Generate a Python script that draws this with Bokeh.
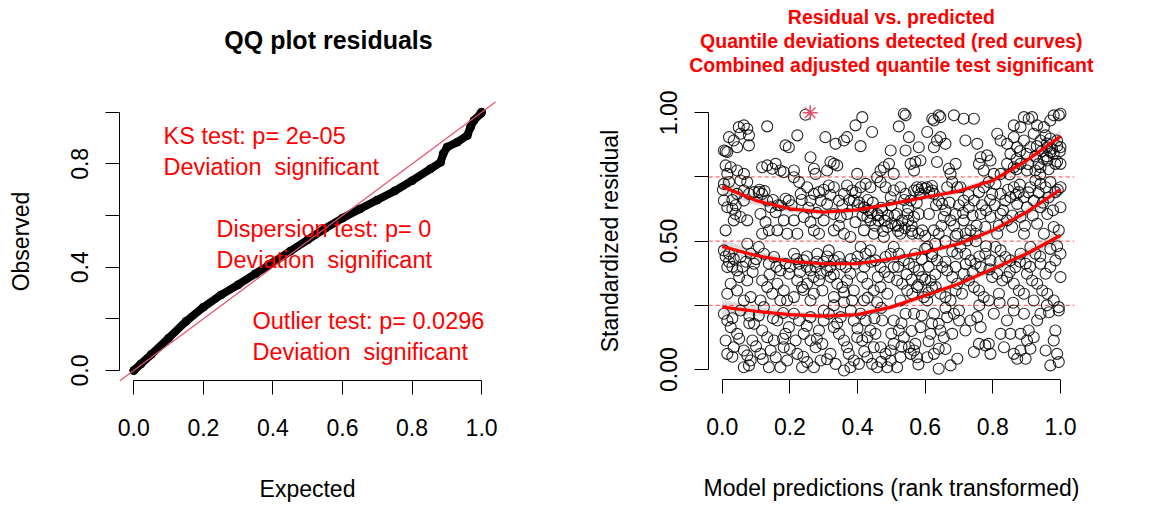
from bokeh.plotting import figure
from bokeh.models import FixedTicker, Range1d, Label, PrintfTickFormatter
from bokeh.layouts import row
from bokeh.embed import file_html
from bokeh.resources import INLINE

FONT = "Liberation Sans"

# ---------------- data: QQ plot ----------------
qq_expected = [0.0, 0.02, 0.05, 0.10, 0.15, 0.20, 0.25, 0.30, 0.35, 0.40, 0.45, 0.50, 0.55,
               0.60, 0.65, 0.70, 0.75, 0.80, 0.853, 0.882, 0.89, 0.901, 0.93, 0.959, 0.968,
               0.978, 0.997, 1.0]
qq_observed = [0.0, 0.025, 0.062, 0.125, 0.19, 0.245, 0.292, 0.332, 0.375, 0.418, 0.462, 0.506,
               0.55, 0.59, 0.625, 0.66, 0.695, 0.735, 0.781, 0.806, 0.84, 0.865, 0.884, 0.910,
               0.942, 0.968, 0.994, 1.0]
qq_title = "QQ plot residuals"
test_texts = ["KS test: p= 2e-05", "Deviation  significant",
              "Dispersion test: p= 0", "Deviation  significant",
              "Outlier test: p= 0.0296", "Deviation  significant"]

# ---------------- data: residual vs predicted ----------------
top_band = [
    (0.005, 0.853), (0.010, 0.850), (0.015, 0.847), (0.020, 0.905), (0.049, 0.944), (0.064, 0.951),
    (0.074, 0.938), (0.079, 0.912), (0.054, 0.918), (0.034, 0.892), (0.079, 0.873), (0.044, 0.866),
    (0.010, 0.795), (0.025, 0.788), (0.044, 0.775), (0.064, 0.762), (0.074, 0.730), (0.054, 0.736),
    (0.015, 0.762), (0.133, 0.947), (0.118, 0.788), (0.148, 0.782), (0.172, 0.775), (0.182, 0.769),
    (0.187, 0.873), (0.197, 0.866), (0.158, 0.801), (0.222, 0.912), (0.212, 0.775), (0.133, 0.795),
    (0.246, 0.992), (0.261, 0.827), (0.271, 0.782), (0.305, 0.905), (0.310, 0.775), (0.320, 0.808),
    (0.330, 0.801), (0.340, 0.795), (0.276, 0.762), (0.335, 0.879), (0.360, 0.892), (0.369, 0.905),
    (0.394, 0.951), (0.414, 0.983), (0.409, 0.870), (0.399, 0.762), (0.443, 0.925), (0.498, 0.853),
    (0.478, 0.788), (0.493, 0.801), (0.507, 0.762), (0.468, 0.775), (0.522, 0.947), (0.537, 0.996),
    (0.542, 0.990), (0.552, 0.905), (0.542, 0.853), (0.557, 0.801), (0.571, 0.808), (0.586, 0.814),
    (0.581, 0.866), (0.567, 0.775), (0.606, 0.925), (0.621, 0.977), (0.626, 0.970), (0.640, 0.990),
    (0.645, 0.983), (0.635, 0.892), (0.645, 0.905), (0.660, 0.879), (0.685, 0.990), (0.626, 0.866),
    (0.635, 0.808), (0.670, 0.782), (0.675, 0.762), (0.690, 0.801), (0.714, 0.977), (0.719, 0.892),
    (0.744, 0.977), (0.754, 0.879), (0.764, 0.827), (0.759, 0.801), (0.783, 0.834), (0.793, 0.814),
    (0.813, 0.918), (0.803, 0.762), (0.773, 0.775), (0.823, 0.892), (0.842, 0.879), (0.862, 0.951),
    (0.862, 0.905), (0.882, 0.944), (0.892, 0.983), (0.906, 0.977), (0.916, 0.983), (0.852, 0.840),
    (0.872, 0.866), (0.892, 0.892), (0.842, 0.801), (0.862, 0.788), (0.882, 0.801), (0.901, 0.775),
    (0.823, 0.762), (0.921, 0.918), (0.941, 0.892), (0.956, 0.912), (0.970, 0.970), (0.980, 0.990),
    (0.995, 0.990), (1.000, 0.996), (0.990, 0.892), (1.000, 0.866), (0.980, 0.840), (0.970, 0.847),
    (0.961, 0.814), (0.941, 0.788), (0.926, 0.775), (1.000, 0.801), (0.911, 0.866), (0.985, 0.801),
    (0.961, 0.866), (0.951, 0.944), (0.931, 0.951),
]
upper_band = [
    (0.005, 0.658), (0.015, 0.632), (0.030, 0.626), (0.039, 0.606), (0.034, 0.581), (0.010, 0.542),
    (0.044, 0.684), (0.064, 0.697), (0.079, 0.684), (0.094, 0.691), (0.054, 0.594), (0.074, 0.581),
    (0.005, 0.723), (0.020, 0.730), (0.064, 0.658), (0.108, 0.691), (0.118, 0.684), (0.133, 0.658),
    (0.143, 0.632), (0.158, 0.613), (0.172, 0.639), (0.187, 0.665), (0.197, 0.658), (0.113, 0.606),
    (0.128, 0.574), (0.138, 0.542), (0.163, 0.542), (0.182, 0.581), (0.192, 0.529), (0.118, 0.529),
    (0.212, 0.749), (0.227, 0.730), (0.232, 0.684), (0.251, 0.710), (0.261, 0.658), (0.271, 0.684),
    (0.286, 0.691), (0.291, 0.658), (0.241, 0.594), (0.261, 0.574), (0.271, 0.542), (0.286, 0.529),
    (0.222, 0.529), (0.212, 0.581), (0.300, 0.581), (0.315, 0.717), (0.330, 0.710), (0.345, 0.658),
    (0.360, 0.684), (0.369, 0.717), (0.384, 0.697), (0.389, 0.658), (0.330, 0.606), (0.350, 0.594),
    (0.369, 0.606), (0.394, 0.574), (0.330, 0.542), (0.360, 0.529), (0.379, 0.516), (0.310, 0.645),
    (0.409, 0.710), (0.424, 0.723), (0.438, 0.710), (0.458, 0.749), (0.468, 0.730), (0.483, 0.710),
    (0.419, 0.632), (0.429, 0.594), (0.438, 0.581), (0.458, 0.606), (0.473, 0.619), (0.488, 0.555),
    (0.419, 0.542), (0.448, 0.529), (0.478, 0.516), (0.498, 0.671), (0.507, 0.697), (0.527, 0.710),
    (0.542, 0.684), (0.557, 0.658), (0.567, 0.697), (0.576, 0.710), (0.586, 0.684), (0.517, 0.606),
    (0.532, 0.581), (0.547, 0.606), (0.567, 0.594), (0.581, 0.606), (0.591, 0.542), (0.527, 0.529),
    (0.562, 0.529), (0.606, 0.710), (0.621, 0.697), (0.626, 0.684), (0.640, 0.658), (0.650, 0.645),
    (0.665, 0.710), (0.680, 0.730), (0.695, 0.710), (0.611, 0.606), (0.626, 0.542), (0.640, 0.529),
    (0.655, 0.594), (0.675, 0.581), (0.690, 0.606), (0.695, 0.529), (0.704, 0.710), (0.714, 0.658),
    (0.729, 0.632), (0.744, 0.658), (0.759, 0.691), (0.773, 0.710), (0.788, 0.730), (0.798, 0.684),
    (0.714, 0.581), (0.734, 0.542), (0.749, 0.529), (0.764, 0.606), (0.778, 0.555), (0.793, 0.594),
    (0.724, 0.503), (0.808, 0.723), (0.823, 0.684), (0.837, 0.658), (0.852, 0.671), (0.862, 0.710),
    (0.877, 0.691), (0.892, 0.671), (0.901, 0.632), (0.823, 0.606), (0.842, 0.581), (0.857, 0.555),
    (0.882, 0.594), (0.892, 0.529), (0.813, 0.529), (0.872, 0.645), (0.911, 0.710), (0.926, 0.736),
    (0.941, 0.723), (0.956, 0.710), (0.970, 0.730), (0.985, 0.691), (1.000, 0.710), (0.921, 0.658),
    (0.941, 0.632), (0.961, 0.606), (0.980, 0.555), (0.995, 0.542), (0.931, 0.568), (0.951, 0.529),
    (1.000, 0.632),
]
lower_band = [
    (0.005, 0.464), (0.020, 0.451), (0.034, 0.431), (0.015, 0.399), (0.044, 0.386), (0.054, 0.438),
    (0.074, 0.490), (0.084, 0.451), (0.094, 0.412), (0.025, 0.334), (0.044, 0.308), (0.074, 0.347),
    (0.084, 0.282), (0.015, 0.295), (0.064, 0.269), (0.108, 0.477), (0.123, 0.451), (0.138, 0.412),
    (0.153, 0.438), (0.172, 0.386), (0.187, 0.412), (0.197, 0.373), (0.118, 0.347), (0.133, 0.321),
    (0.148, 0.295), (0.163, 0.334), (0.182, 0.308), (0.192, 0.269), (0.113, 0.269), (0.172, 0.269),
    (0.212, 0.451), (0.227, 0.412), (0.241, 0.425), (0.261, 0.386), (0.276, 0.399), (0.291, 0.373),
    (0.222, 0.347), (0.236, 0.321), (0.251, 0.334), (0.271, 0.295), (0.286, 0.347), (0.296, 0.308),
    (0.261, 0.269), (0.212, 0.282), (0.281, 0.451), (0.315, 0.464), (0.330, 0.425), (0.345, 0.438),
    (0.365, 0.399), (0.379, 0.373), (0.394, 0.412), (0.320, 0.360), (0.340, 0.334), (0.355, 0.321),
    (0.369, 0.347), (0.389, 0.308), (0.330, 0.282), (0.360, 0.262), (0.384, 0.269), (0.310, 0.386),
    (0.409, 0.477), (0.424, 0.451), (0.438, 0.464), (0.453, 0.425), (0.468, 0.399), (0.483, 0.438),
    (0.498, 0.451), (0.414, 0.360), (0.429, 0.334), (0.448, 0.308), (0.468, 0.321), (0.488, 0.295),
    (0.419, 0.269), (0.458, 0.262), (0.493, 0.360), (0.507, 0.477), (0.522, 0.451), (0.537, 0.425),
    (0.552, 0.412), (0.567, 0.399), (0.581, 0.386), (0.591, 0.360), (0.517, 0.347), (0.532, 0.334),
    (0.547, 0.308), (0.562, 0.295), (0.576, 0.321), (0.596, 0.282), (0.527, 0.269), (0.507, 0.399),
    (0.606, 0.477), (0.621, 0.451), (0.635, 0.425), (0.650, 0.399), (0.665, 0.386), (0.680, 0.360),
    (0.695, 0.334), (0.616, 0.347), (0.631, 0.321), (0.645, 0.295), (0.660, 0.282), (0.675, 0.269),
    (0.690, 0.308), (0.606, 0.269), (0.695, 0.451), (0.704, 0.477), (0.719, 0.451), (0.734, 0.425),
    (0.749, 0.412), (0.764, 0.399), (0.778, 0.451), (0.793, 0.425), (0.714, 0.373), (0.729, 0.347),
    (0.744, 0.321), (0.759, 0.308), (0.773, 0.282), (0.788, 0.269), (0.709, 0.295), (0.798, 0.360),
    (0.808, 0.477), (0.823, 0.464), (0.837, 0.438), (0.852, 0.425), (0.867, 0.399), (0.882, 0.451),
    (0.897, 0.412), (0.813, 0.373), (0.828, 0.347), (0.842, 0.360), (0.862, 0.334), (0.877, 0.308),
    (0.892, 0.295), (0.818, 0.295), (0.901, 0.373), (0.911, 0.477), (0.926, 0.451), (0.941, 0.412),
    (0.956, 0.373), (0.970, 0.399), (0.985, 0.425), (1.000, 0.360), (0.916, 0.347), (0.931, 0.334),
    (0.946, 0.308), (0.961, 0.295), (0.980, 0.269), (0.995, 0.243), (0.921, 0.269), (1.000, 0.451),
]
bottom_band = [
    (0.005, 0.217), (0.015, 0.191), (0.025, 0.165), (0.010, 0.113), (0.015, 0.061), (0.044, 0.139),
    (0.064, 0.074), (0.074, 0.055), (0.084, 0.035), (0.064, 0.009), (0.079, 0.016), (0.094, 0.178),
    (0.054, 0.230), (0.034, 0.087), (0.089, 0.113), (0.108, 0.210), (0.118, 0.152), (0.133, 0.126),
    (0.143, 0.074), (0.158, 0.048), (0.172, 0.009), (0.187, 0.139), (0.197, 0.165), (0.113, 0.061),
    (0.138, 0.009), (0.182, 0.087), (0.163, 0.191), (0.123, 0.243), (0.192, 0.035), (0.153, 0.113),
    (0.212, 0.217), (0.227, 0.191), (0.241, 0.139), (0.261, 0.113), (0.276, 0.087), (0.291, 0.035),
    (0.222, 0.061), (0.236, 0.009), (0.251, 0.029), (0.271, 0.009), (0.286, 0.152), (0.300, 0.191),
    (0.217, 0.113), (0.261, 0.204), (0.296, 0.100), (0.315, 0.217), (0.330, 0.165), (0.345, 0.139),
    (0.360, 0.113), (0.374, 0.061), (0.389, 0.035), (0.399, 0.126), (0.320, 0.061), (0.335, 0.022),
    (0.360, -0.004), (0.379, 0.009), (0.404, 0.022), (0.350, 0.204), (0.389, 0.191), (0.369, 0.087),
    (0.409, 0.217), (0.424, 0.191), (0.438, 0.152), (0.453, 0.139), (0.468, 0.087), (0.483, 0.061),
    (0.498, 0.035), (0.414, 0.113), (0.429, 0.048), (0.443, 0.022), (0.458, 0.009), (0.488, 0.009),
    (0.448, 0.087), (0.473, 0.191), (0.429, 0.126), (0.507, 0.191), (0.522, 0.152), (0.537, 0.126),
    (0.552, 0.087), (0.567, 0.074), (0.507, 0.100), (0.527, 0.048), (0.517, 0.009), (0.557, 0.061),
    (0.576, 0.048), (0.586, 0.165), (0.567, 0.217), (0.542, 0.217), (0.498, 0.074), (0.571, 0.100),
    (0.606, 0.048), (0.626, 0.217), (0.640, 0.178), (0.645, 0.152), (0.640, 0.081), (0.640, 0.003),
    (0.655, 0.126), (0.675, 0.016), (0.695, 0.042), (0.680, 0.139), (0.665, 0.204), (0.616, 0.139),
    (0.685, 0.217), (0.700, 0.191), (0.626, 0.061), (0.744, 0.068), (0.759, 0.100), (0.778, 0.094),
    (0.788, 0.100), (0.823, 0.139), (0.734, 0.191), (0.754, 0.204), (0.719, 0.152), (0.764, 0.165),
    (0.803, 0.217), (0.793, 0.061), (0.862, 0.061), (0.872, 0.042), (0.882, 0.074), (0.897, 0.042),
    (0.911, 0.081), (0.852, 0.139), (0.882, 0.139), (0.901, 0.113), (0.892, 0.217), (0.862, 0.230),
    (0.842, 0.191), (0.906, 0.152), (0.833, 0.087), (0.970, 0.016), (0.995, 0.029), (0.980, 0.113),
    (0.985, 0.152), (0.941, 0.217), (0.966, 0.223), (0.995, 0.230), (0.956, 0.074), (0.931, 0.191),
    (0.921, 0.126), (0.990, 0.061),
]
cluster_points = [
    (0.002, 0.700), (0.030, 0.660), (0.040, 0.640), (0.110, 0.700), (0.125, 0.695), (0.150, 0.660),
    (0.165, 0.640), (0.205, 0.640), (0.235, 0.660), (0.255, 0.630), (0.280, 0.610), (0.300, 0.700),
    (0.320, 0.680), (0.345, 0.560), (0.355, 0.640), (0.375, 0.660), (0.395, 0.690), (0.405, 0.650),
    (0.415, 0.600), (0.432, 0.620), (0.445, 0.650), (0.452, 0.560), (0.462, 0.580), (0.475, 0.540),
    (0.490, 0.600), (0.500, 0.640), (0.512, 0.560), (0.520, 0.540), (0.538, 0.660), (0.550, 0.630),
    (0.560, 0.560), (0.575, 0.650), (0.580, 0.700), (0.590, 0.710), (0.600, 0.705), (0.612, 0.690),
    (0.620, 0.715), (0.632, 0.640), (0.648, 0.560), (0.660, 0.620), (0.672, 0.650), (0.685, 0.560),
    (0.700, 0.640), (0.712, 0.610), (0.728, 0.680), (0.740, 0.600), (0.752, 0.560), (0.768, 0.640),
    (0.780, 0.620), (0.792, 0.660), (0.805, 0.640), (0.818, 0.560), (0.830, 0.620), (0.845, 0.700),
    (0.858, 0.600), (0.868, 0.680), (0.880, 0.720), (0.895, 0.560), (0.905, 0.690), (0.918, 0.600),
    (0.935, 0.690), (0.948, 0.650), (0.965, 0.670), (0.978, 0.620), (0.992, 0.700), (0.905, 0.800),
    (0.925, 0.830), (0.945, 0.850), (0.960, 0.880), (0.975, 0.860), (0.990, 0.870), (0.998, 0.850),
    (0.950, 0.820), (0.935, 0.800), (0.965, 0.780), (0.880, 0.850), (0.870, 0.820), (0.850, 0.760),
    (0.020, 0.420), (0.060, 0.400), (0.100, 0.430), (0.140, 0.370), (0.160, 0.400), (0.200, 0.400),
    (0.230, 0.380), (0.250, 0.440), (0.300, 0.420), (0.320, 0.400), (0.350, 0.410), (0.380, 0.430),
    (0.400, 0.440), (0.420, 0.400), (0.440, 0.420), (0.460, 0.360), (0.480, 0.380), (0.520, 0.400),
    (0.545, 0.370), (0.560, 0.350), (0.590, 0.430), (0.610, 0.400), (0.630, 0.370), (0.660, 0.420),
    (0.690, 0.400), (0.720, 0.410), (0.740, 0.380), (0.760, 0.440), (0.790, 0.390), (0.820, 0.420),
    (0.850, 0.380), (0.880, 0.420), (0.910, 0.400), (0.940, 0.440), (0.970, 0.470), (0.990, 0.480),
    (0.030, 0.200), (0.080, 0.210), (0.150, 0.200), (0.180, 0.220), (0.250, 0.170), (0.300, 0.230),
    (0.340, 0.180), (0.400, 0.160), (0.450, 0.200), (0.500, 0.140), (0.530, 0.180), (0.560, 0.150),
    (0.590, 0.210), (0.620, 0.180), (0.660, 0.240), (0.700, 0.230), (0.760, 0.250), (0.820, 0.260),
    (0.860, 0.260), (0.960, 0.250), (0.030, 0.050), (0.100, 0.090), (0.200, 0.080), (0.310, 0.040),
    (0.420, 0.070), (0.470, 0.030), (0.530, 0.090), (0.580, 0.020), (0.610, 0.110), (0.660, 0.080),
]
dense_points = [
    (0.400, 0.640), (0.420, 0.630), (0.440, 0.610), (0.460, 0.600), (0.480, 0.580), (0.500, 0.570),
    (0.520, 0.560), (0.540, 0.550), (0.560, 0.540), (0.580, 0.530), (0.600, 0.520), (0.430, 0.660),
    (0.470, 0.630), (0.510, 0.600), (0.550, 0.580), (0.570, 0.450), (0.600, 0.470), (0.630, 0.490),
    (0.660, 0.500), (0.690, 0.520), (0.720, 0.530), (0.750, 0.500), (0.780, 0.480), (0.620, 0.440),
    (0.680, 0.460), (0.580, 0.330), (0.600, 0.350), (0.620, 0.320), (0.610, 0.300), (0.010, 0.440),
    (0.030, 0.400), (0.050, 0.360), (0.070, 0.420), (0.090, 0.380), (0.220, 0.430), (0.250, 0.400),
    (0.280, 0.420), (0.310, 0.440), (0.330, 0.370), (0.270, 0.360), (0.240, 0.310), (0.870, 0.780),
    (0.900, 0.840), (0.930, 0.870), (0.960, 0.830), (0.990, 0.810), (0.970, 0.900), (0.940, 0.760),
    (0.050, 0.120), (0.120, 0.040), (0.180, 0.120), (0.240, 0.050), (0.280, 0.120), (0.080, 0.180),
    (0.330, 0.250), (0.380, 0.230), (0.430, 0.280), (0.470, 0.240), (0.360, 0.300),
]
outlier_x = [0.26]
outlier_y = [1.0]

quant_x = [0.0, 0.1, 0.2, 0.3, 0.4, 0.5, 0.6, 0.7, 0.8, 0.9, 1.0]
q75 = [0.713, 0.658, 0.626, 0.613, 0.622, 0.645, 0.671, 0.695, 0.736, 0.814, 0.908]
q50 = [0.479, 0.444, 0.421, 0.412, 0.412, 0.431, 0.457, 0.490, 0.542, 0.613, 0.701]
q25 = [0.243, 0.227, 0.214, 0.208, 0.214, 0.243, 0.288, 0.334, 0.392, 0.451, 0.522]
band_half = [0.028, 0.018, 0.013, 0.011, 0.011, 0.011, 0.011, 0.012, 0.014, 0.018, 0.026]
quantile_levels = [0.25, 0.5, 0.75]
res_title_lines = ["Residual vs. predicted", "Quantile deviations detected (red curves)",
                   "Combined adjusted quantile test significant"]

qq_x_ticks = [0, 0.2, 0.4, 0.6, 0.8, 1.0]
qq_y_ticks = [0, 0.2, 0.4, 0.6, 0.8, 1.0]
qq_y_labels = {0: "0.0", 0.2: "", 0.4: "0.4", 0.6: "", 0.8: "0.8", 1: ""}
res_x_ticks = [0, 0.2, 0.4, 0.6, 0.8, 1.0]
res_y_ticks = [0, 0.25, 0.5, 0.75, 1.0]
res_y_labels = {0: "0.00", 0.25: "", 0.5: "0.50", 0.75: "", 1: "1.00"}

# ---------------- layout geometry (pixels inside each figure) ----------------
FIG_H = 505
LO, HI = -0.04, 1.04            # R-style 4 % extended plotting region


class Geo:
    def __init__(self, width, left, right, top, bottom):
        self.w, self.l, self.r, self.t, self.b = width, left, right, top, bottom
        self.sx = (right - left) / (HI - LO)
        self.sy = (bottom - top) / (HI - LO)

    def x_range(self):
        return Range1d(LO - self.l / self.sx, HI + (self.w - self.r) / self.sx)

    def y_range(self):
        return Range1d(LO - (FIG_H - self.b) / self.sy, HI + self.t / self.sy)

    def dx(self, px):     # figure pixel -> data x
        return LO + (px - self.l) / self.sx

    def dy(self, py):     # figure pixel -> data y
        return HI - (py - self.t) / self.sy


g1 = Geo(590, 119.4, 495.0, 101.4, 380.3)
g2 = Geo(560, 118.2, 483.5, 102.0, 379.3)


def base_fig(g):
    p = figure(width=g.w, height=FIG_H, x_range=g.x_range(), y_range=g.y_range(),
               output_backend="svg", toolbar_location=None,
               min_border_left=0, min_border_right=0, min_border_top=0, min_border_bottom=0)
    p.outline_line_color = None
    p.grid.visible = False
    p.background_fill_color = "white"
    p.border_fill_color = "white"
    return p


def style_axes(p, xlabel, ylabel, xticks, yticks, ylabels):
    for ax in (p.xaxis[0], p.yaxis[0]):
        ax.fixed_location = LO
        ax.bounds = (0, 1)
        ax.axis_line_color = "black"
        ax.axis_line_width = 1
        ax.major_tick_line_color = "black"
        ax.major_tick_out = 14
        ax.major_tick_in = 0
        ax.minor_tick_line_color = None
        ax.major_label_text_font = FONT
        ax.major_label_text_font_size = "23px"
        ax.major_label_text_color = "black"
        ax.axis_label_text_font = FONT
        ax.axis_label_text_font_size = "23px"
        ax.axis_label_text_font_style = "normal"
        ax.axis_label_text_color = "black"
    p.xaxis[0].ticker = FixedTicker(ticks=xticks)
    p.xaxis[0].formatter = PrintfTickFormatter(format="%.1f")
    p.xaxis[0].axis_label = xlabel
    p.xaxis[0].major_label_standoff = 24
    p.xaxis[0].axis_label_standoff = 37
    p.yaxis[0].ticker = FixedTicker(ticks=yticks)
    p.yaxis[0].major_label_overrides = ylabels
    p.yaxis[0].major_label_orientation = "vertical"
    p.yaxis[0].axis_label = ylabel
    p.yaxis[0].major_label_standoff = 18
    p.yaxis[0].axis_label_standoff = 34


def text_label(p, x, y, text, size, color, bold=False, align="center"):
    p.add_layout(Label(x=x, y=y, text=text, text_font=FONT, text_font_size=size,
                       text_font_style="bold" if bold else "normal", text_color=color,
                       text_align=align, text_baseline="middle"))


# ---------------- left: QQ plot ----------------
p1 = base_fig(g1)
style_axes(p1, "Expected", "Observed", qq_x_ticks, qq_y_ticks, qq_y_labels)
text_label(p1, g1.dx(328), g1.dy(39), qq_title, "25px", "black", bold=True)

p1.line(qq_expected, qq_observed, line_color="black", line_width=8, line_join="round", line_cap="round")
p1.scatter(qq_expected, qq_observed, size=8, fill_color="black", line_color="black")
p1.line([LO, HI], [LO, HI], line_color="#DF536B", line_width=1.2)   # y = x reference

ann_px = [(163, 135), (163, 166), (216, 228), (216, 259), (252, 320), (252, 351)]
for (tx, ty), txt in zip(ann_px, test_texts):
    text_label(p1, g1.dx(tx), g1.dy(ty), txt.replace("  ", " \u00a0"), "23.5px", "red", align="left")

# ---------------- right: residual vs predicted ----------------
p2 = base_fig(g2)
style_axes(p2, "Model predictions (rank transformed)", "Standardized residual",
           res_x_ticks, res_y_ticks, res_y_labels)
for ty, line in zip((16, 40, 64), res_title_lines):
    text_label(p2, 0.5, g2.dy(ty), line, "19.5px", "red", bold=True)

for q in (q25, q50, q75):
    lo = [v - h for v, h in zip(q, band_half)]
    hi = [v + h for v, h in zip(q, band_half)]
    p2.varea(x=quant_x, y1=lo, y2=hi, fill_color="#C8C8C8", fill_alpha=0.6)

p2.segment(x0=[LO] * 3, x1=[HI] * 3, y0=quantile_levels, y1=quantile_levels,
           line_color="red", line_alpha=0.75, line_width=1, line_dash="4 3")

pts = top_band + upper_band + lower_band + bottom_band + cluster_points + dense_points
px = [a for a, b in pts]
py = [b for a, b in pts]
p2.scatter(px, py, marker="circle", size=11, fill_color=None, line_color="black",
           line_alpha=0.85, line_width=1.1)

for q in (q25, q50, q75):
    p2.line(quant_x, q, line_color="red", line_width=3.2)

p2.scatter(outlier_x, outlier_y, marker="asterisk", size=15, line_color="#DF536B", line_width=1.5)

layout = row(p1, p2)
open("out.html", "w").write(file_html(layout, INLINE))
